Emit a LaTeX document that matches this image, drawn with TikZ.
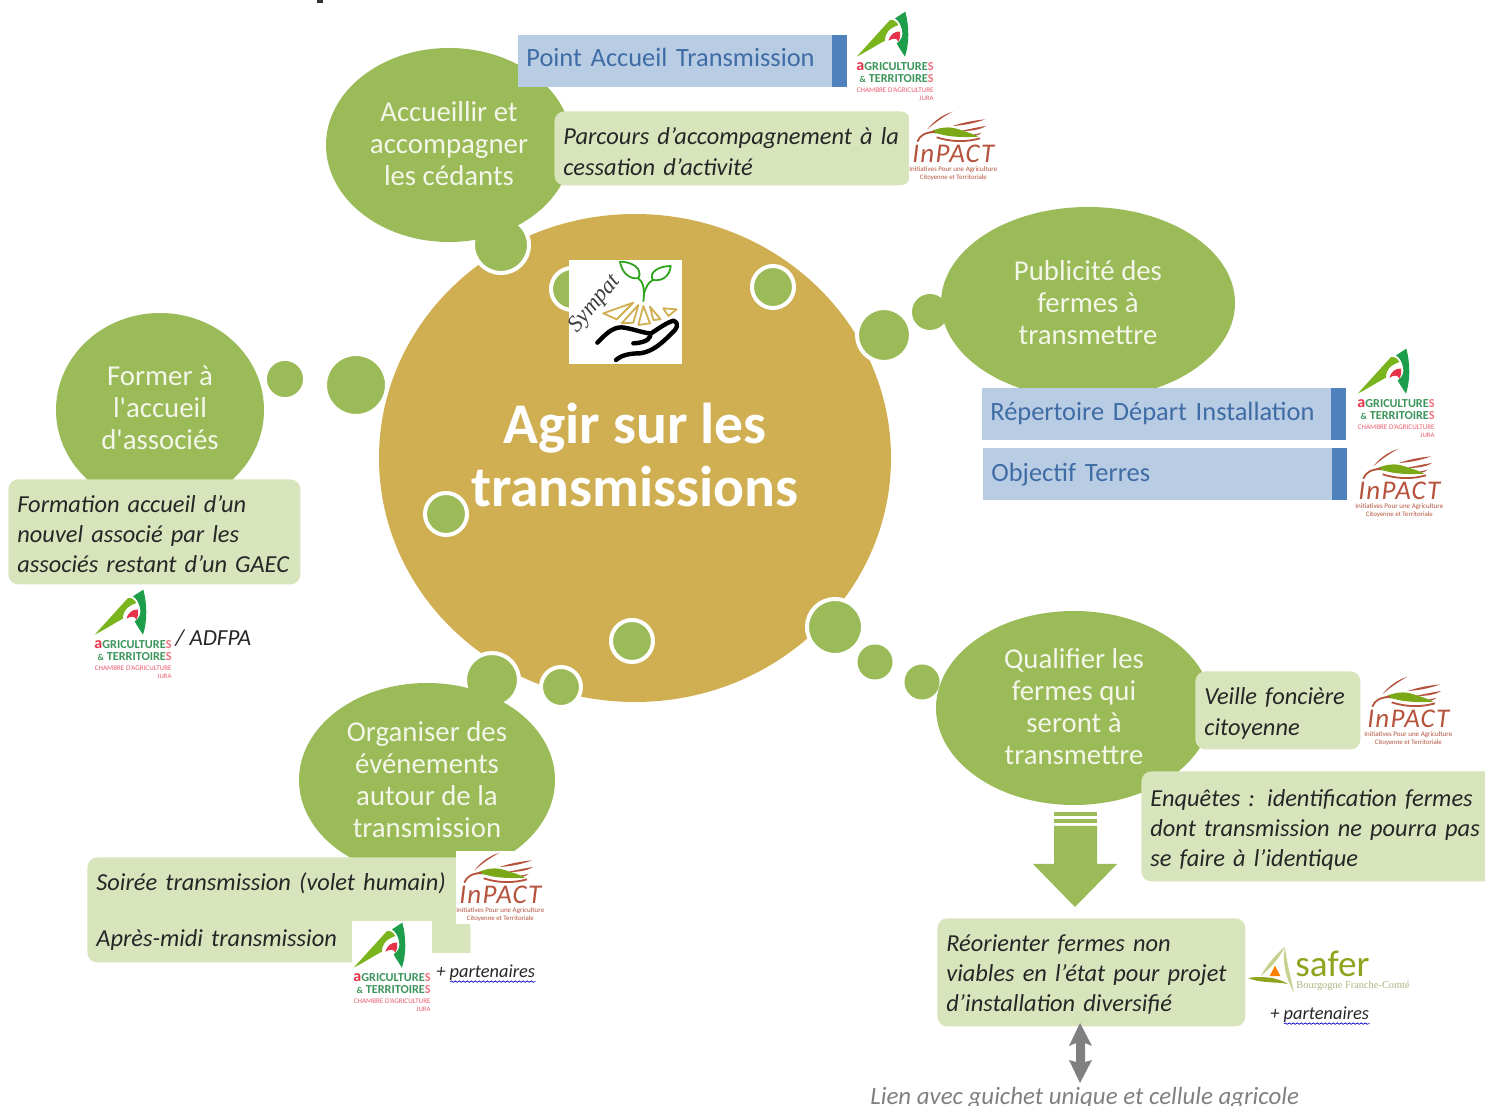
\documentclass[tikz,border=0pt]{standalone}
\usepackage{fontspec}
\setmainfont{Carlito}
\newfontfamily\serifface{Liberation Serif}
\usetikzlibrary{decorations.pathmorphing,shapes.geometric}
\definecolor{leaf}{HTML}{9BBB59}
\definecolor{gold}{HTML}{CFAF52}
\definecolor{pale}{HTML}{D8E4BC}
\definecolor{sky}{HTML}{B8CCE4}
\definecolor{steel}{HTML}{4F81BD}
\definecolor{skytext}{HTML}{3F6CA5}
\definecolor{cream}{HTML}{F3F6E8}
\definecolor{brick}{HTML}{B5533C}
\definecolor{cagreen}{HTML}{1E9E4A}
\definecolor{calime}{HTML}{7AB51D}
\definecolor{cared}{HTML}{E5344A}
\definecolor{sagreen}{HTML}{8FA31E}
\newcommand{\fs}[2]{\fontsize{#1}{#2}\selectfont}
\newcommand{\dn}[1]{\rule{0pt}{#1}}
\newcommand{\up}[1]{\\[#1]\mbox{}}
\tikzset{
  x=0.5pt,y=-0.5pt,
  main/.style={ellipse,fill=leaf,text=cream,align=center,inner sep=0pt,font=\fs{14.4}{16}},
  bub/.style={circle,fill=leaf,draw=white,line width=2pt,inner sep=0pt},
  plainbub/.style={circle,fill=leaf,inner sep=0pt},
  lbox/.style={anchor=north west,fill=pale,rounded corners=5pt,align=left,inner xsep=4.5pt,inner ysep=0pt,font=\fs{12.2}{15}\itshape,text=black!85},
  sbox/.style={anchor=north west,fill=sky,align=left,inner xsep=4pt,inner ysep=0pt,font=\fs{13.2}{15},text=skytext},
  bar/.style={fill=steel},
  note/.style={anchor=west,inner sep=0pt,font=\fs{11.5}{12}\itshape,text=black!85},
  wavy/.style={draw=blue!80!black,line width=.35pt,decorate,decoration={snake,amplitude=.35pt,segment length=2pt}},
  calogo/.pic={
    \begin{scope}[x=0.16667pt,y=-0.16667pt]
      \fill[white] (45,30) rectangle (284,306);
      \fill[calime] (50,170) -- (150,60) .. controls (160,58) and (170,65) .. (175,75) .. controls (150,85) and (135,95) .. (135,122) .. controls (110,135) and (80,155) .. (50,170) -- cycle;
      \fill[cagreen] (196,35) .. controls (208,80) and (208,130) .. (195,170) .. controls (185,155) and (175,140) .. (170,130) .. controls (185,120) and (190,105) .. (186,90) .. controls (183,75) and (176,62) .. (165,55) -- cycle;
      \fill[cared] (145,122) .. controls (150,105) and (165,92) .. (180,95) .. controls (182,105) and (180,115) .. (175,125) .. controls (170,112) and (158,115) .. (145,122) -- cycle;
      \node[inner sep=0pt,font=\fs{6.1}{7}\bfseries,text=cagreen!70!gray] (catop) at (165,200) {\textcolor{cared}{\fs{8}{8}a}GRICULTURE\textcolor{cared!70}{S}};
      \node[inner sep=0pt,anchor=east,font=\fs{6.1}{7}\bfseries,text=cagreen!70!gray] (camid) at (282,237) {\fs{4.5}{7}\&\fs{6.1}{7} TERRITOIRE\textcolor{cared!70}{S}};
      \node[inner sep=0pt,anchor=east,font=\fs{3.55}{5},text=cared!80] (casub) at (282,270) {CHAMBRE D'AGRICULTURE};
      \node[inner sep=0pt,anchor=east,font=\fs{3.4}{5},text=cared!80] (cajura) at (282,295) {JURA};
    \end{scope}
  },
  inpactlogo/.pic={
    \begin{scope}[x=0.16667pt,y=-0.16667pt]
      \fill[white] (208,330) rectangle (475,548);
      \fill[brick] (338,335) .. controls (305,345) and (280,365) .. (262,388) .. controls (285,368) and (310,350) .. (338,335) -- cycle;
      \fill[brick] (435,358) .. controls (395,362) and (360,370) .. (338,378) .. controls (370,376) and (405,370) .. (435,358) -- cycle;
      \fill[brick] (438,378) .. controls (410,382) and (385,388) .. (365,392) .. controls (390,394) and (420,390) .. (438,378) -- cycle;
      \fill[brick] (425,398) .. controls (405,404) and (390,406) .. (370,406) .. controls (395,412) and (415,408) .. (425,398) -- cycle;
      \fill[calime!75!olive] (262,400) .. controls (285,385) and (320,378) .. (345,385) .. controls (370,392) and (395,400) .. (415,410) .. controls (380,412) and (345,412) .. (310,405) .. controls (295,400) and (280,398) .. (262,400) -- cycle;
      \draw[brick,line width=.9pt] (232,425) .. controls (240,405) and (255,398) .. (285,395);
      \draw[brick,line width=.9pt] (290,412) .. controls (340,428) and (385,425) .. (420,415);
      \node[inner sep=0pt,font=\fs{13.5}{15}\itshape\addfontfeature{LetterSpace=5},text=brick] (iptitle) at (340,462) {InPACT};
      \node[inner sep=0pt,font=\fs{3.5}{4},text=brick] (ipone) at (340,508) {Initiatives Pour une Agriculture};
      \node[inner sep=0pt,font=\fs{3.4}{4},text=brick] (iptwo) at (340,532) {Citoyenne et Territoriale};
    \end{scope}
  },
  saferlogo/.pic={
    \begin{scope}[x=0.16667pt,y=-0.16667pt]
      \fill[sagreen!50] (795,440) .. controls (770,460) and (740,495) .. (722,528) .. controls (750,505) and (775,480) .. (795,440) -- cycle;
      \fill[sagreen!50] (795,440) .. controls (785,490) and (800,540) .. (822,578) .. controls (812,530) and (800,490) .. (795,440) -- cycle;
      \fill[orange] (765,497) -- (781,528) -- (749,528) -- cycle;
      \fill[sagreen] (684,534) .. controls (720,528) and (770,530) .. (804,552) .. controls (770,545) and (720,550) .. (684,534) -- cycle;
      \node[inner sep=0pt,anchor=west,font=\fs{18.6}{20},text=sagreen] (satxt) at (825,492) {safer};
      \node[inner sep=0pt,anchor=west,font=\serifface\fs{5.2}{7},text=sagreen!55!gray!70] (sasub) at (828,557) {Bourgogne Franche-Comté};
    \end{scope}
  },
}
\begin{document}
\begin{tikzpicture}
\useasboundingbox (0,0) rectangle (1485,1106);
\fill[black!80] (317,0) rectangle (323,3);
% hub
\node[ellipse,fill=gold,minimum width=256pt,minimum height=244pt,inner sep=0pt,align=center,text=white,font=\fs{28.8}{31.5}\bfseries] (hub) at (635,458) {Agir sur les\\transmissions\up{-28.5pt}};
% bubbles
\node[bub,minimum size=28pt] (b1) at (501,245) {};
\node[bub,minimum size=21pt] (b2) at (572,289) {};
\node[bub,minimum size=21pt] (b3) at (773,287) {};
\node[bub,minimum size=21pt] (b4) at (446,514) {};
\node[bub,minimum size=21pt] (b5) at (632,641) {};
\node[bub,minimum size=20pt] (b6) at (561,687) {};
\node[bub,minimum size=27pt] (b7) at (492,680) {};
\node[bub,minimum size=28pt] (b8) at (835,627) {};
\node[plainbub,minimum size=17.5pt] (b9) at (875,662) {};
\node[plainbub,minimum size=17.5pt] (b10) at (922,682) {};
\node[bub,minimum size=27pt] (b11) at (884,335) {};
\node[plainbub,minimum size=18pt] (b12) at (930,312) {};
\node[bub,minimum size=31pt] (b13) at (356,385) {};
\node[plainbub,minimum size=18pt] (b14) at (285,379) {};
% main ellipses
\node[main,minimum width=123pt,minimum height=97pt] (accueil) at (449,145) {Accueillir et\\accompagner\\les cédants\up{-14.5pt}};
\node[main,minimum width=147pt,minimum height=96pt] (pub) at (1088,303) {Publicité des\\fermes à\\transmettre};
\node[main,minimum width=104pt,minimum height=97pt] (former) at (160,410) {Former à\\l\textquotesingle accueil\\d\textquotesingle associés\up{-14pt}};
\node[main,minimum width=128pt,minimum height=97pt] (orga) at (427,780) {Organiser des\\événements\\autour de la\\transmission};
\node[main,minimum width=138pt,minimum height=97pt] (quali) at (1074,708) {Qualifier les\\fermes qui\\seront à\\transmettre\up{-15pt}};
% blue boxes
\node[sbox,minimum height=26pt,text width=156.5pt] (pat) at (518,35) {\raisebox{4pt}{Point Accueil Transmission}};
\fill[bar] (832,35) rectangle (847,87);
\node[sbox,minimum height=26pt,text width=174pt] (rdi) at (982,388) {\raisebox{3.5pt}{Répertoire Départ Installation}};
\fill[bar] (1331,388) rectangle (1346,440);
\node[sbox,minimum height=26pt,text width=174pt] (obj) at (983,448) {\raisebox{2.5pt}{Objectif Terres}};
\fill[bar] (1332,448) rectangle (1347,500);
% pale boxes
\node[lbox,minimum height=37pt,text width=169pt,font=\fs{12.2}{15.5}\itshape] (parc) at (554,111) {\dn{11.3pt}Parcours d’accompagnement à la\\cessation d’activité};
\node[lbox,minimum height=52.5pt,text width=137pt] (form) at (8,479) {\dn{10.7pt}Formation accueil d’un\\nouvel associé par les\\associés restant d’un GAEC};
\node[lbox,minimum height=39pt,text width=73.5pt,font=\fs{12.2}{15.5}\itshape] (veil) at (1195,671) {\dn{11.3pt}Veille foncière\\citoyenne};
\node[lbox,minimum height=55pt,text width=175pt] (enq) at (1141,771) {\dn{11.6pt}Enquêtes : identification fermes\\dont transmission ne pourra pas\\se faire à l’identique};
\node[lbox,minimum height=54pt,text width=145pt] (reo) at (937,918) {\dn{10.7pt}Réorienter fermes non\\viables en l’état pour projet\\d’installation diversifié};
\node[lbox,minimum height=52.5pt,text width=182.5pt,font=\fs{12.2}{28}\itshape] (soir) at (87,857) {\dn{10.7pt}Soirée transmission (volet humain)\\Après-midi transmission};
\fill[white] (430,953) rectangle (476,966);
% logos
\pic at (78,578) {calogo};
\pic at (840,0) {calogo};
\pic at (1341,337) {calogo};
\pic at (337,911) {calogo};
\pic at (840,0) {inpactlogo};
\pic at (1286,337) {inpactlogo};
\pic at (1295,565) {inpactlogo};
\pic at (387,741) {inpactlogo};
\pic at (1020,800) {saferlogo};
% notes
\node[note] (adfpa) at (175,638) {/ ADFPA};
\node[note,font=\fs{9.2}{10}\itshape] (part1) at (436,973) {+ partenaires};
\draw[wavy] ([xshift=7pt,yshift=-.2pt]part1.south west) -- ([yshift=-.2pt]part1.south east);
\node[note,font=\fs{9.2}{10}\itshape] (part2) at (1270,1015) {+ partenaires};
\draw[wavy] ([xshift=7pt,yshift=-.2pt]part2.south west) -- ([yshift=-.2pt]part2.south east);
\node[note,font=\fs{12.45}{14}\itshape,text=gray] (lien) at (870,1098) {Lien avec guichet unique et cellule agricole};
% big arrow
\fill[leaf] (1054,812) rectangle (1097,816);
\fill[leaf] (1054,819) rectangle (1097,823);
\fill[leaf] (1054,826) -- (1097,826) -- (1097,864) -- (1117,864) -- (1075,907) -- (1033,864) -- (1054,864) -- cycle;
% grey double arrow
\fill[gray] (1080,1023) -- (1092,1046) -- (1085,1043) -- (1085,1062) -- (1092,1060) -- (1080,1083) -- (1069,1060) -- (1076,1062) -- (1076,1043) -- (1069,1046) -- cycle;
% Sympat logo
\fill[white] (569,260) rectangle (682,364);
\begin{scope}[shift={(540,240)},x=0.16667pt,y=-0.16667pt]
  \draw[green!60!black!70!leaf,line width=.9pt,line join=round] (310,185) .. controls (315,150) and (310,125) .. (295,115) (295,115) .. controls (265,118) and (245,95) .. (240,65) .. controls (275,65) and (310,85) .. (295,115);
  \draw[green!60!black!70!leaf,line width=.9pt,line join=round] (312,160) .. controls (318,140) and (325,128) .. (338,120) .. controls (370,125) and (390,105) .. (392,78) .. controls (360,78) and (325,95) .. (338,120);
  \draw[gold,line width=.9pt,line join=round] (190,220) -- (280,188) -- (230,238) -- cycle;
  \draw[gold,line width=.9pt,line join=round] (245,250) -- (295,195) -- (280,248) -- cycle;
  \draw[gold,line width=.9pt,line join=round] (295,255) -- (310,198) -- (330,250) -- cycle;
  \draw[gold,line width=.9pt,line join=round] (340,240) -- (330,200) -- (362,238) -- cycle;
  \draw[gold,line width=.9pt,line join=round] (370,205) -- (410,208) -- (385,228) -- cycle;
  \draw[black,line width=2.2pt,line cap=round,line join=round] (172,308) .. controls (195,285) and (215,262) .. (245,262) .. controls (275,265) and (305,278) .. (330,280) .. controls (335,290) and (325,308) .. (280,310);
  \draw[black,line width=2.2pt,line cap=round,line join=round] (330,282) .. controls (350,270) and (375,250) .. (400,242) .. controls (420,250) and (410,268) .. (395,280) .. controls (370,305) and (340,335) .. (300,340) .. controls (270,340) and (245,345) .. (228,360);
  \node[inner sep=0pt,rotate=50,font=\serifface\itshape\fs{11.5}{13},text=black!75] (sympat) at (165,192) {Sympat};
\end{scope}
\end{tikzpicture}
\end{document}
